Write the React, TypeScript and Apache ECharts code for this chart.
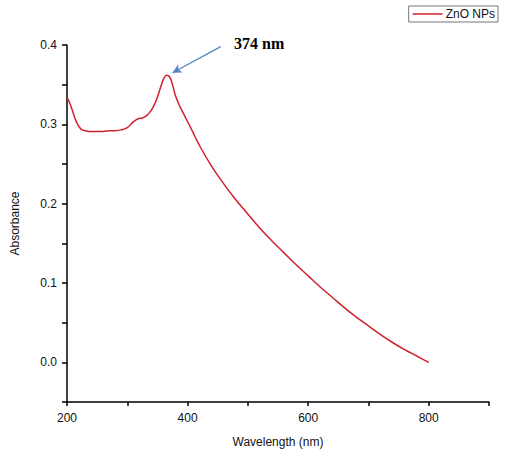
import React, { useEffect, useRef } from "react";
import * as echarts from "echarts";

const wavelengths = [
  200, 205, 210, 215, 220, 225, 230, 240, 250, 260, 270, 280, 290, 300, 310, 318, 325, 332, 340,
  348, 355, 360, 365, 370, 375, 380, 387, 395, 405, 412, 420, 440, 460, 480, 500, 520, 540, 560, 580,
  600, 620, 640, 660, 680, 700, 720, 740, 760, 780, 800,
];
const absorbance = [
  0.334, 0.326, 0.315, 0.304, 0.297, 0.293, 0.292, 0.291, 0.291, 0.291, 0.292, 0.292, 0.293, 0.296,
  0.303, 0.307, 0.308, 0.311, 0.318, 0.33, 0.346, 0.357, 0.362, 0.36, 0.35, 0.336, 0.323, 0.311, 0.296,
  0.285, 0.273, 0.247, 0.225, 0.205, 0.187, 0.169, 0.153, 0.138, 0.123, 0.109, 0.095, 0.082, 0.069,
  0.057, 0.046, 0.035, 0.025, 0.016, 0.008, 0.0,
];
const seriesName = "ZnO NPs";
const peakLabel = "374 nm";
const arrowStart = [455, 0.398];
const arrowEnd = [375, 0.365];

export default function App() {
  const ref = useRef<HTMLDivElement>(null);
  useEffect(() => {
    if (!ref.current) return;
    const chart = echarts.init(ref.current, null, { renderer: "svg" });
    const font = "Liberation Sans, Arial, sans-serif";
    chart.setOption({
      animation: false,
      backgroundColor: "#fff",
      textStyle: { fontFamily: font },
      grid: { left: 67, right: 19, top: 45, bottom: 55, containLabel: false },
      legend: {
        right: 10,
        top: 6,
        orient: "horizontal",
        data: [{ name: seriesName, icon: "rect" }],
        itemWidth: 30,
        itemHeight: 1.5,
        itemGap: 4,
        borderColor: "#777",
        borderWidth: 1,
        borderRadius: 0,
        padding: [2, 3, 2, 4],
        textStyle: { fontFamily: font, fontSize: 12, color: "#111", padding: [0, 0, 0, -2] },
      },
      xAxis: {
        type: "value",
        min: 200,
        max: 900,
        interval: 100,
        name: "Wavelength (nm)",
        nameLocation: "middle",
        nameGap: 34,
        nameTextStyle: { fontFamily: font, fontSize: 12, color: "#111" },
        axisLine: { show: true, onZero: false, lineStyle: { color: "#000", width: 1.5 } },
        axisTick: { show: true, inside: false, length: 4, lineStyle: { color: "#000", width: 1.5 } },
        axisLabel: {
          fontFamily: font,
          fontSize: 12,
          color: "#111",
          margin: 10,
          formatter: (v: number) => (Math.round(v) % 200 === 0 ? String(v) : ""),
        },
        splitLine: { show: false },
      },
      yAxis: {
        type: "value",
        min: -0.05,
        max: 0.4,
        interval: 0.05,
        name: "Absorbance",
        nameLocation: "middle",
        nameGap: 46,
        nameTextStyle: { fontFamily: font, fontSize: 12, color: "#111" },
        axisLine: { show: true, onZero: false, lineStyle: { color: "#000", width: 1.5 } },
        axisTick: { show: true, inside: false, length: 5, lineStyle: { color: "#000", width: 1.5 } },
        axisLabel: {
          fontFamily: font,
          fontSize: 12,
          color: "#111",
          margin: 10,
          formatter: (v: number) => {
            const r = Math.round(v * 100);
            return r % 10 === 0 ? (r / 100).toFixed(1) : "";
          },
        },
        splitLine: { show: false },
      },
      series: [
        {
          name: seriesName,
          type: "line",
          data: wavelengths.map((w, i) => [w, absorbance[i]]),
          smooth: 0.4,
          showSymbol: false,
          symbol: "none",
          lineStyle: { color: "#d2202c", width: 1.5 },
          itemStyle: { color: "#d2202c" },
          markLine: {
            silent: true,
            symbol: ["none", "arrow"],
            symbolSize: [7, 9],
            lineStyle: { color: "#5585c0", width: 1.3, type: "solid" },
            label: { show: false },
            data: [[{ coord: arrowStart }, { coord: arrowEnd }]],
          },
        },
      ],
      graphic: [
        {
          type: "text",
          left: 234,
          top: 35,
          style: {
            text: peakLabel,
            fontFamily: "Liberation Serif, Times New Roman, serif",
            fontWeight: "bold",
            fontSize: 16,
            fill: "#000",
          },
        },
      ],
    });
    return () => chart.dispose();
  }, []);
  return (
    <div
      ref={ref}
      style={{ position: "fixed", left: 0, top: 0, width: 508, height: 457 }}
    />
  );
}
